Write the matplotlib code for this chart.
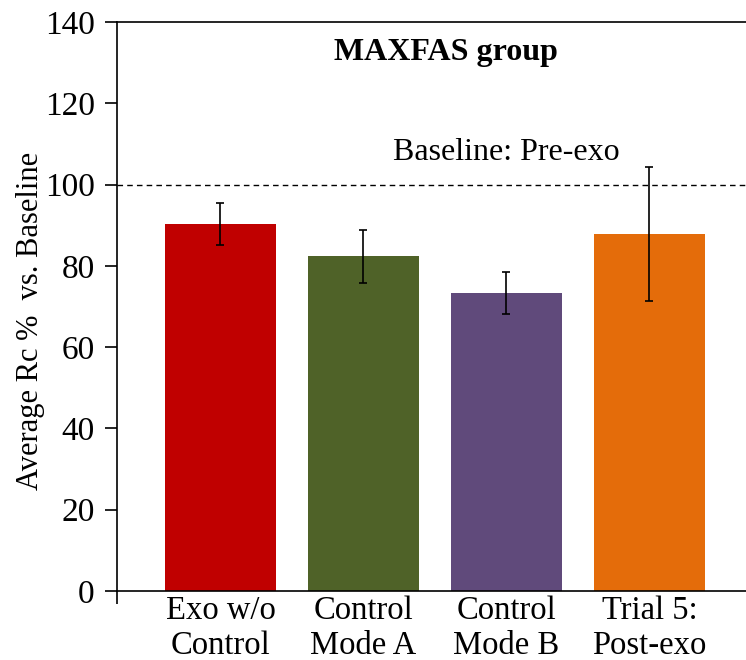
import matplotlib.pyplot as plt

plt.rcParams['font.family'] = 'Liberation Serif'

categories = ['Exo w/o\nControl', 'Control\nMode A', 'Control\nMode B', 'Trial 5:\nPost-exo']
values = [90.3, 82.4, 73.3, 87.8]
errors = [5.2, 6.5, 5.1, 16.5]
colors = ['#C00000', '#4F6228', '#604A7B', '#E46C0A']
baseline = 100

fig = plt.figure(figsize=(7.46, 6.60), dpi=100)
ax = fig.add_axes([0.1568, 0.1045, 0.8432, 0.8622])

x = range(len(categories))
ax.bar(x, values, width=0.776, color=colors, zorder=2)
ax.errorbar(x, values, yerr=errors, fmt='none', ecolor='black',
            elinewidth=1.2, capsize=3, capthick=1.2, zorder=3)

# baseline reference
ax.axhline(baseline, color='black', linestyle=(0, (4, 3)), linewidth=1, zorder=1)
ax.text(2.0, 107.8, 'Baseline: Pre-exo', ha='center', va='center', fontsize=23)
ax.text(1.58, 132.4, 'MAXFAS group', ha='center', va='center',
        fontsize=23, fontweight='bold')

ax.set_xlim(-0.724, 3.675)
ax.set_ylim(0, 140)
ax.set_yticks(range(0, 141, 20))
ax.set_xticks(list(x))
ax.set_xticklabels(categories, fontsize=23.5, linespacing=1.2)
ax.tick_params(axis='x', length=0, pad=3)
ax.set_xticks([-0.724], minor=True)
ax.tick_params(axis='x', which='minor', length=9, width=1.2, direction='out')
ax.tick_params(axis='y', labelsize=24, length=9, width=1.2, direction='out', pad=7)

ax.set_ylabel('Average Rc %  vs. Baseline', fontsize=22)
ax.yaxis.set_label_coords(-0.115, 0.475)

ax.spines['right'].set_visible(False)
for s in ['left', 'top', 'bottom']:
    ax.spines[s].set_linewidth(1.2)

fig.savefig('out.png', dpi=100)
